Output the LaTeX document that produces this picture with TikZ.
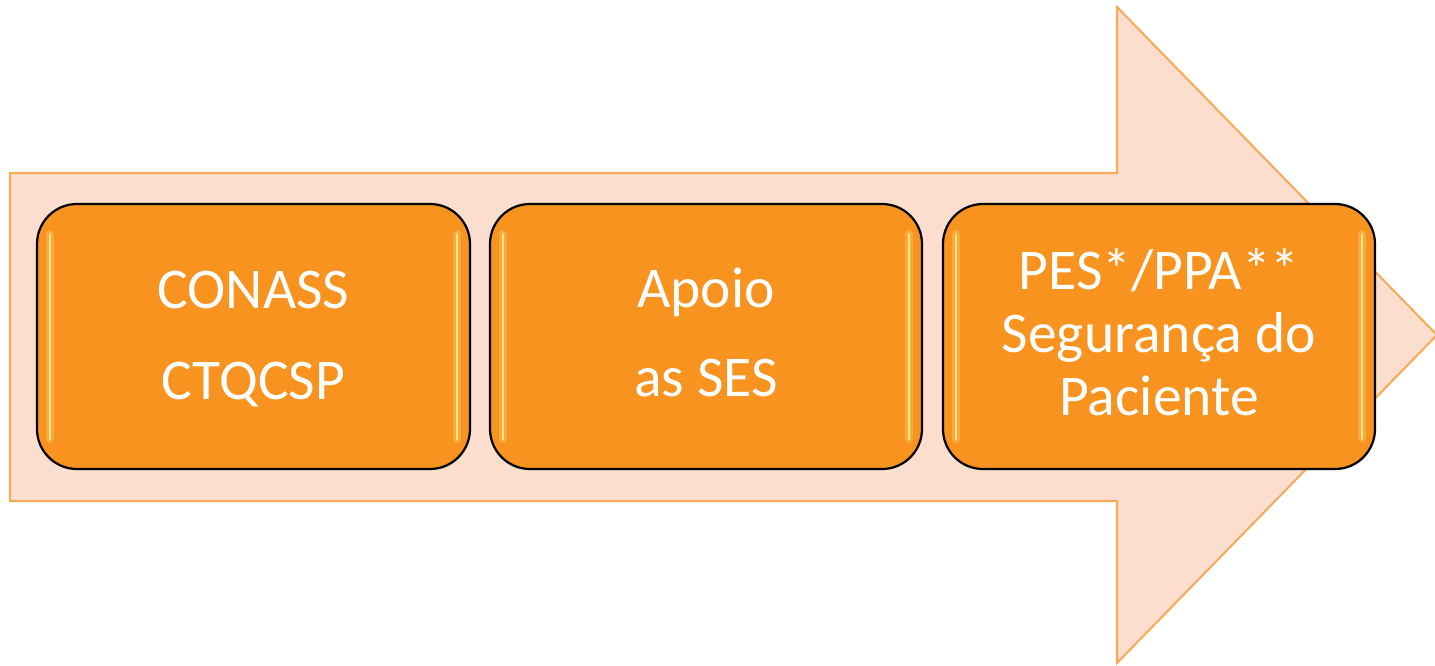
\documentclass[tikz,border=0pt]{standalone}
\usepackage{fontspec}
\setmainfont{Carlito}
\definecolor{arrowfill}{RGB}{251,222,206}
\definecolor{arrowline}{RGB}{247,170,85}
\definecolor{boxfill}{RGB}{247,147,30}
\definecolor{glow}{RGB}{255,240,150}
\tikzset{
  boxshape/.style={draw=black, line width=1.1pt, fill=boxfill, rounded corners=20pt},
  glowline/.style={draw=glow, line width=1.3pt, opacity=0.85, line cap=round},
  glowsoft/.style={draw=glow, line width=4pt, opacity=0.25, line cap=round},
  boxtext/.style={text=white, anchor=base, inner sep=0pt, font=\fontsize{28.8}{30}\selectfont},
}
\newcommand{\gbox}[5]{% name, x1, y1, x2, y2
  \draw[boxshape] (#2,#3) rectangle (#4,#5);
  \coordinate (#1-nw) at (#2,#3);
  \coordinate (#1-se) at (#4,#5);
  \draw[glowsoft] (#2+13,#3+30) -- (#2+13,#5-30);
  \draw[glowline] (#2+13,#3+30) -- (#2+13,#5-30);
  \draw[glowsoft] (#4-13,#3+30) -- (#4-13,#5-30);
  \draw[glowline] (#4-13,#3+30) -- (#4-13,#5-30);
}
\begin{document}
\begin{tikzpicture}[x=0.5pt,y=-0.5pt]
\useasboundingbox (0,0) rectangle (1435,665);
% big arrow
\draw[arrowline, fill=arrowfill, line width=1pt, line join=miter]
  (10,173) -- (1117,173) -- (1117,7) -- (1437,335) -- (1117,663) -- (1117,501) -- (10,501) -- cycle;
% boxes
\gbox{b1}{37}{204}{470}{469}
\gbox{b2}{490}{204}{922}{469}
\gbox{b3}{943}{204}{1375}{469}
% texts
\node[boxtext] (t1a) at (253.5,308) {CONASS};
\node[boxtext] (t1b) at (253.5,399) {CTQCSP};
\node[boxtext] (t2a) at (706,307) {Apoio};
\node[boxtext] (t2b) at (706,396) {as SES};
\node[boxtext] (t3a) at (1159,289) {PES*/PPA**};
\node[boxtext] (t3b) at (1159,352) {Segurança do};
\node[boxtext] (t3c) at (1159,415) {Paciente};
\end{tikzpicture}
\end{document}
